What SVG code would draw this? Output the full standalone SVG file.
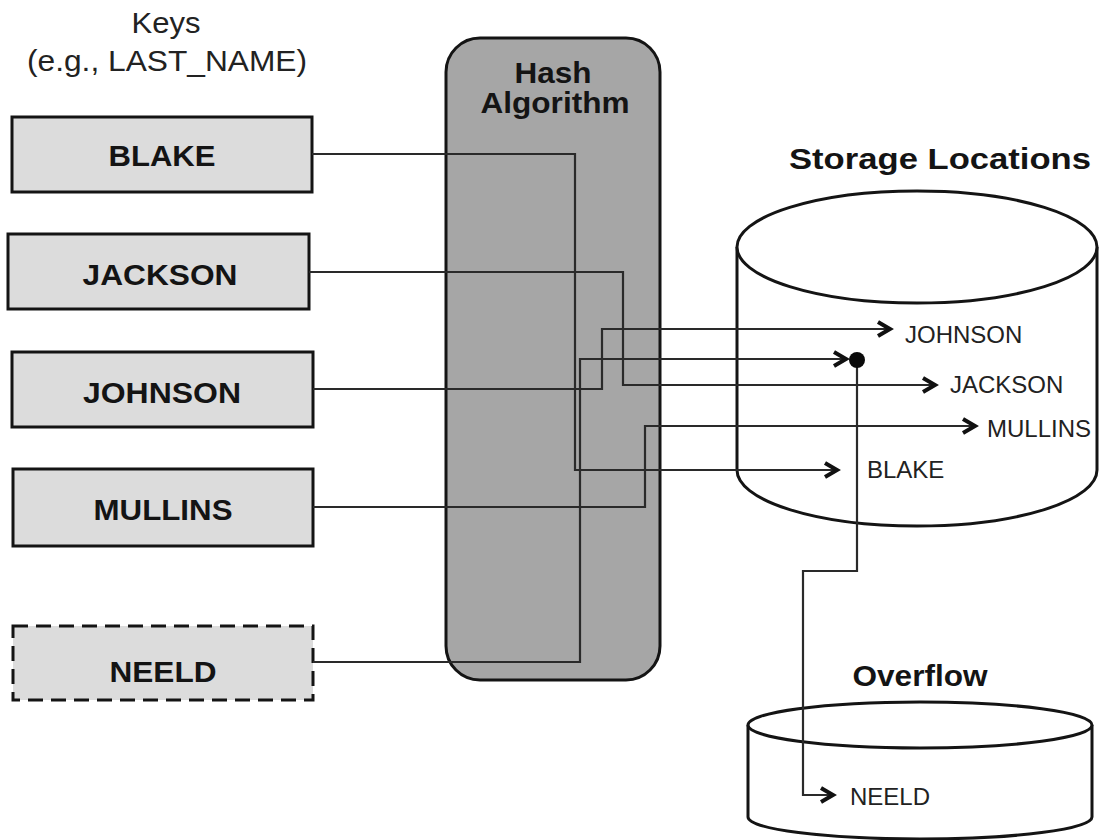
<svg xmlns="http://www.w3.org/2000/svg" width="1099" height="840" viewBox="0 0 1099 840">
<style>
  .key { fill: #dcdcdc; stroke: #141414; stroke-width: 3; }
  .dashed { stroke-dasharray: 15 8; }
  .b { font-family: "Liberation Sans", Arial, sans-serif; font-weight: bold; font-size: 29px; fill: #141414; text-anchor: middle; }
  .r { font-family: "Liberation Sans", Arial, sans-serif; font-size: 24px; fill: #222; }
  .t { font-family: "Liberation Sans", Arial, sans-serif; font-size: 29px; fill: #222; text-anchor: middle; }
  .cyl { fill: #ffffff; stroke: #141414; stroke-width: 3; }
  .wire { fill: none; stroke: #2a2a2a; stroke-width: 2.2; }
</style>
<defs>
  <marker id="arr" markerUnits="userSpaceOnUse" markerWidth="24" markerHeight="24" refX="13" refY="8" orient="auto" overflow="visible">
    <path d="M1,1 L13,8 L1,15" fill="none" stroke="#111111" stroke-width="4" stroke-linejoin="miter"/>
  </marker>
</defs>
<rect width="1099" height="840" fill="#ffffff"/>

<g id="title-keys">
  <text class="t" x="166" y="33" textLength="69" lengthAdjust="spacingAndGlyphs">Keys</text>
  <text class="t" x="167" y="71" textLength="280" lengthAdjust="spacingAndGlyphs">(e.g., LAST_NAME)</text>
</g>

<g id="key-blake">
  <rect class="key" x="12" y="117" width="300" height="75"/>
  <text class="b" x="162" y="166" textLength="107" lengthAdjust="spacingAndGlyphs">BLAKE</text>
</g>
<g id="key-jackson">
  <rect class="key" x="8" y="234" width="301" height="75"/>
  <text class="b" x="160" y="285" textLength="155" lengthAdjust="spacingAndGlyphs">JACKSON</text>
</g>
<g id="key-johnson">
  <rect class="key" x="12" y="352" width="301" height="75"/>
  <text class="b" x="162" y="403" textLength="158" lengthAdjust="spacingAndGlyphs">JOHNSON</text>
</g>
<g id="key-mullins">
  <rect class="key" x="13" y="469" width="300" height="77"/>
  <text class="b" x="163" y="520" textLength="139" lengthAdjust="spacingAndGlyphs">MULLINS</text>
</g>
<g id="key-neeld">
  <rect class="key dashed" x="13" y="626" width="300" height="74"/>
  <text class="b" x="163" y="682" textLength="107" lengthAdjust="spacingAndGlyphs">NEELD</text>
</g>

<g id="hash-algorithm">
  <rect x="446" y="38" width="214" height="642" rx="34" ry="34" fill="#a6a6a6" stroke="#141414" stroke-width="3"/>
  <text class="b" x="553" y="83" textLength="77" lengthAdjust="spacingAndGlyphs">Hash</text>
  <text class="b" x="555" y="113" textLength="149" lengthAdjust="spacingAndGlyphs">Algorithm</text>
</g>

<g id="storage-locations">
  <text class="b" x="940" y="169" textLength="302" lengthAdjust="spacingAndGlyphs">Storage Locations</text>
  <path class="cyl" d="M737,247 V470 A180,56 0 0 0 1097,470 V247"/>
  <ellipse class="cyl" cx="917" cy="247" rx="180" ry="56"/>
</g>

<g id="overflow">
  <text class="b" x="920" y="686" textLength="135" lengthAdjust="spacingAndGlyphs">Overflow</text>
  <path class="cyl" d="M748,725 V817 A172,22 0 0 0 1092,817 V725"/>
  <ellipse class="cyl" cx="920" cy="725" rx="172" ry="23"/>
</g>

<g id="connectors">
  <path class="wire" d="M312,154 H575 V470 H837" marker-end="url(#arr)"/>
  <path class="wire" d="M309,272 H623 V385 H935" marker-end="url(#arr)"/>
  <path class="wire" d="M313,389 H602 V329 H890" marker-end="url(#arr)"/>
  <path class="wire" d="M313,507 H645 V426 H975" marker-end="url(#arr)"/>
  <path class="wire" d="M313,662 H580 V359 H846" marker-end="url(#arr)"/>
  <path class="wire" d="M857,360 V571 H803 V795 H833" marker-end="url(#arr)"/>
  <circle cx="857" cy="360" r="8" fill="#0a0a0a"/>
</g>

<g id="storage-labels">
  <text class="r" x="905" y="343">JOHNSON</text>
  <text class="r" x="950" y="393">JACKSON</text>
  <text class="r" x="987" y="437">MULLINS</text>
  <text class="r" x="867" y="478">BLAKE</text>
  <text class="r" x="850" y="805">NEELD</text>
</g>
</svg>
